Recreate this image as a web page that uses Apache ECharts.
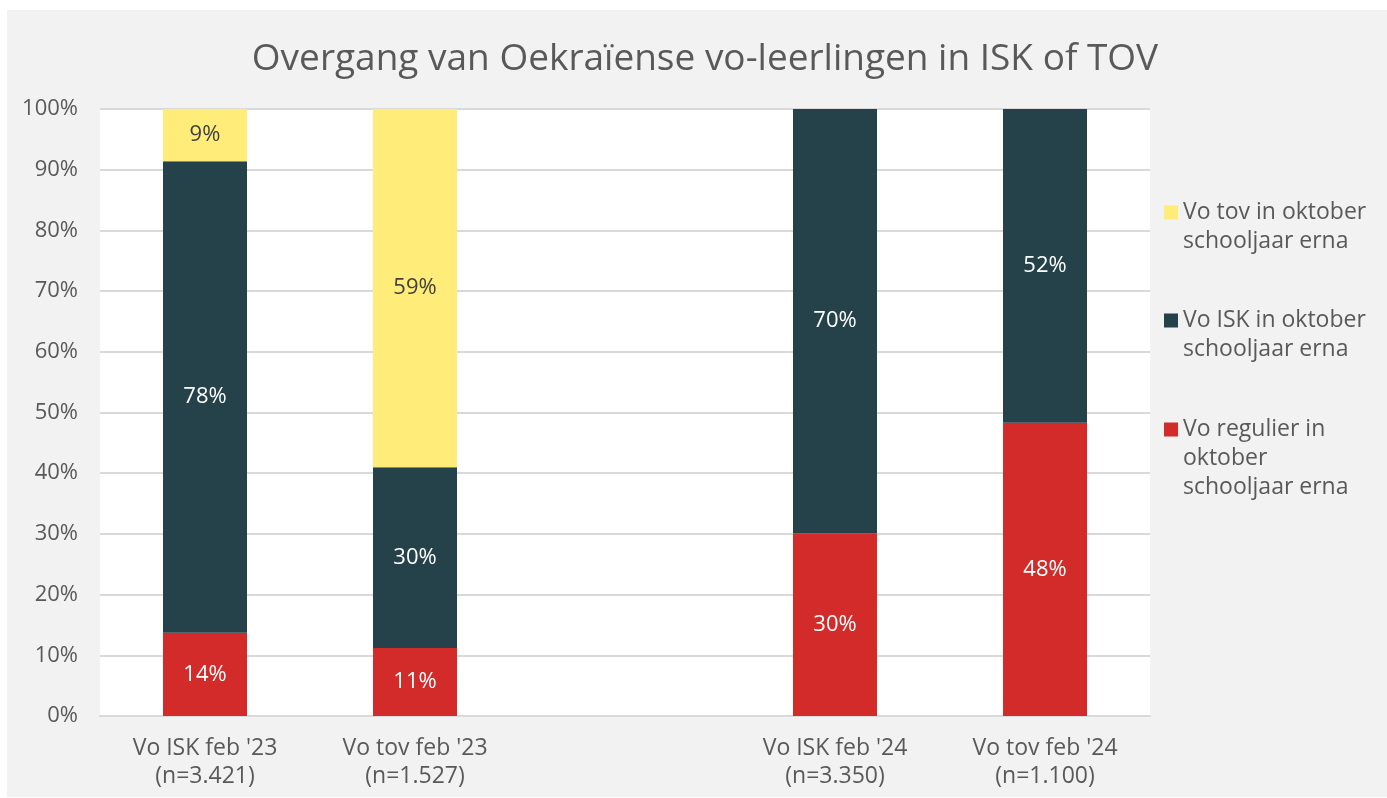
<!DOCTYPE html>
<html>
<head>
<meta charset="utf-8">
<script src="https://cdn.jsdelivr.net/npm/echarts@6/dist/echarts.min.js"></script>
<style>
html,body{margin:0;padding:0;background:#fff;}
#chart{width:1387px;height:798px;}
</style>
</head>
<body>
<div id="chart"></div>
<script>
const categories = ["Vo ISK feb '23\n(n=3.421)", "Vo tov feb '23\n(n=1.527)", "", "Vo ISK feb '24\n(n=3.350)", "Vo tov feb '24\n(n=1.100)"];
const seriesNames = ["Vo tov in oktober schooljaar erna", "Vo ISK in oktober schooljaar erna", "Vo regulier in oktober schooljaar erna"];
const legendLabels = ["Vo tov in oktober\nschooljaar erna", "Vo ISK in oktober\nschooljaar erna", "Vo regulier in\noktober\nschooljaar erna"];
const regulierValues = [13.7, 11.2, null, 30.1, 48.3];
const iskValues = [77.7, 29.8, null, 69.9, 51.7];
const tovValues = [8.6, 59.0, null, null, null];
const yTicks = [0, 10, 20, 30, 40, 50, 60, 70, 80, 90, 100];

const FONT = 'Open Sans';
const GREY = '#595959';
const colors = ['#FFEC79', '#25414A', '#D22B2A'];

const chart = echarts.init(document.getElementById('chart'), null, {renderer: 'canvas'});

function lbl(color) {
  return {
    show: true, position: 'inside', color: color, fontFamily: FONT, fontSize: 22,
    formatter: p => (p.value == null ? '' : Math.round(p.value) + '%')
  };
}

function legendText(name) {
  const t = legendLabels[seriesNames.indexOf(name)];
  const n = t.split('\n').length;
  return '\n'.repeat(n - 1) + t;
}

const legendTops = [164, 272, 352];
const legends = seriesNames.map((nm, i) => ({
  data: [nm],
  orient: 'vertical',
  left: 1159,
  top: legendTops[i],
  itemWidth: 14,
  itemHeight: 14,
  itemGap: 4,
  icon: 'rect',
  formatter: legendText,
  selectedMode: false,
  textStyle: {fontFamily: FONT, fontSize: 23, color: GREY, lineHeight: 29}
}));

const option = {
  animation: false,
  backgroundColor: '#fff',
  graphic: [{
    type: 'rect', z: -10, silent: true,
    shape: {x: 7, y: 10, width: 1380, height: 787},
    style: {fill: '#F2F2F2'}
  }],
  title: {
    text: 'Overgang van Oekraïense vo-leerlingen in ISK of TOV',
    left: 700, top: 36, textAlign: 'center',
    textStyle: {fontFamily: FONT, fontSize: 37, fontWeight: 'normal', color: GREY}
  },
  legend: legends,
  grid: {left: 100, right: 237, top: 109, bottom: 82, show: true, backgroundColor: '#fff', borderWidth: 0},
  xAxis: {
    type: 'category', data: categories,
    axisLine: {show: true, lineStyle: {color: '#D9D9D9', width: 2}},
    axisTick: {show: false},
    axisLabel: {fontFamily: FONT, fontSize: 23, color: GREY, lineHeight: 28, margin: 18, interval: 0}
  },
  yAxis: {
    type: 'value', min: 0, max: 100, interval: 10,
    axisLine: {show: false}, axisTick: {show: false},
    splitLine: {lineStyle: {color: '#D9D9D9', width: 2}},
    axisLabel: {fontFamily: FONT, fontSize: 22, color: GREY, margin: 22,
      formatter: v => (yTicks.includes(v) ? v + '%' : '')}
  },
  series: [
    {name: seriesNames[2], type: 'bar', stack: 's', data: regulierValues, barWidth: 84,
     itemStyle: {color: colors[2]}, label: lbl('#FFFFFF')},
    {name: seriesNames[1], type: 'bar', stack: 's', data: iskValues, barWidth: 84,
     itemStyle: {color: colors[1]}, label: lbl('#FFFFFF')},
    {name: seriesNames[0], type: 'bar', stack: 's', data: tovValues, barWidth: 84,
     itemStyle: {color: colors[0]}, label: lbl('#404040')}
  ]
};
chart.setOption(option);
</script>
</body>
</html>
